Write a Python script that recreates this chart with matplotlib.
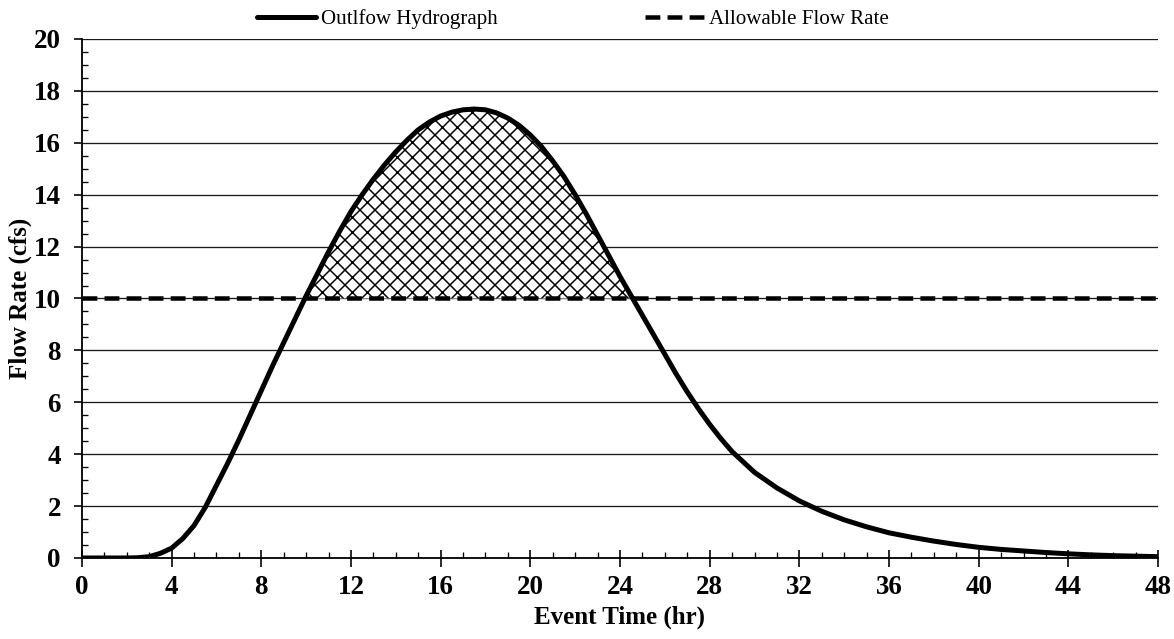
import numpy as np
import matplotlib.pyplot as plt
from matplotlib.ticker import MultipleLocator

# outflow hydrograph
hours = [0, 1, 2, 2.5, 3, 3.5, 4, 4.5, 5, 5.5, 6, 6.5, 7, 7.5, 8, 8.5, 9, 9.5,
         10, 10.5, 11, 11.5, 12, 12.5, 13, 13.5, 14, 14.5, 15, 15.5, 16, 16.5,
         17, 17.5, 18, 18.5, 19, 19.5, 20, 20.5, 21, 21.5, 22, 22.5, 23, 23.5,
         24, 24.5, 25, 25.5, 26, 26.5, 27, 27.5, 28, 28.5, 29, 29.5, 30, 30.5,
         31, 31.5, 32, 32.5, 33, 34, 35, 36, 37, 38, 39, 40, 41, 42, 43, 44,
         45, 46, 47, 48]
flow = [0.0, 0.0, 0.0, 0.01, 0.05, 0.18, 0.38, 0.75, 1.25, 1.95, 2.8, 3.65,
        4.55, 5.5, 6.45, 7.4, 8.3, 9.2, 10.1, 10.95, 11.8, 12.6, 13.35, 14.0,
        14.6, 15.15, 15.65, 16.1, 16.5, 16.8, 17.03, 17.18, 17.27, 17.3, 17.27,
        17.15, 16.95, 16.67, 16.3, 15.85, 15.3, 14.7, 14.0, 13.25, 12.45, 11.65,
        10.85, 10.1, 9.35, 8.6, 7.85, 7.1, 6.4, 5.75, 5.15, 4.6, 4.1, 3.7, 3.3,
        3.0, 2.7, 2.45, 2.2, 2.0, 1.8, 1.47, 1.2, 0.97, 0.8, 0.65, 0.52, 0.41,
        0.33, 0.27, 0.21, 0.16, 0.12, 0.09, 0.07, 0.05]
allowable = 10

plt.rcParams['font.family'] = ['Liberation Serif', 'DejaVu Serif']
plt.rcParams['hatch.linewidth'] = 1.2

# dpi 90 + 'xx' -> hatch diamonds about 15 px wide like the original
fig = plt.figure(figsize=(1174 / 90, 639 / 90), dpi=90)
ax = fig.add_axes([0.0698, 0.1268, 0.9166, 0.8122])

hours = np.array(hours)
flow = np.array(flow)
ax.fill_between(hours, flow, allowable, where=flow >= allowable, interpolate=True,
                facecolor='white', edgecolor='black', hatch='xx', linewidth=0, zorder=2)
ax.plot(hours, flow, color='black', lw=4, label='Outlfow Hydrograph', zorder=4,
        solid_capstyle='round', solid_joinstyle='round')
ax.axhline(allowable, color='black', lw=3.6, dashes=(3.3, 1.6),
           label='Allowable Flow Rate', zorder=3)

ax.set_xlim(0, 48)
ax.set_ylim(0, 20)
ax.xaxis.set_major_locator(MultipleLocator(4))
ax.xaxis.set_minor_locator(MultipleLocator(1))
ax.yaxis.set_major_locator(MultipleLocator(2))
ax.yaxis.set_minor_locator(MultipleLocator(0.5))

ax.grid(axis='y', which='major', color='#1a1a1a', lw=1.05)
ax.set_axisbelow(True)
for s in ['top', 'right']:
    ax.spines[s].set_visible(False)
for s in ['left', 'bottom']:
    ax.spines[s].set_linewidth(1.45)

ax.tick_params(axis='x', which='major', direction='inout', length=13.6, width=1.3, labelsize=21.6, pad=7.2)
ax.tick_params(axis='x', which='minor', direction='in', length=4.8, width=1.05)
ax.tick_params(axis='y', which='major', direction='out', length=6.4, width=1.3, labelsize=21.6, pad=10.4)
ax.tick_params(axis='y', which='minor', direction='in', length=4.8, width=1.05)
for lab in ax.get_xticklabels() + ax.get_yticklabels():
    lab.set_fontweight('bold')

ax.set_xlabel('Event Time (hr)', fontsize=20, fontweight='bold', labelpad=4)
ax.set_ylabel('Flow Rate (cfs)', fontsize=20, fontweight='bold', labelpad=1.6)

fig.legend(loc='upper center', bbox_to_anchor=(0.488, 1.015), ncol=2, frameon=False,
           fontsize=16.8, handlelength=2.8, handletextpad=0.25, columnspacing=7.0)

plt.savefig('out.png')
